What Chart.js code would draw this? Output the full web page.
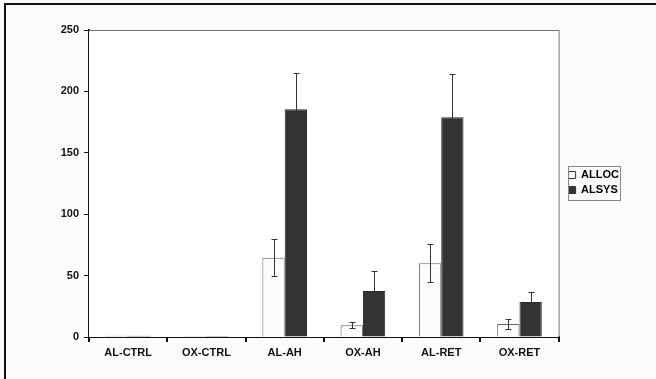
<!DOCTYPE html>
<html>
<head>
<meta charset="utf-8">
<script src="https://cdn.jsdelivr.net/npm/chart.js@4/dist/chart.umd.min.js"></script>
<style>
  html, body { margin: 0; padding: 0; background: #fbfbfb; }
  #wrap { position: relative; width: 656px; height: 379px; }
  #wrap:before { content: ''; position: absolute; left: 4px; top: 3px; right: 0; bottom: 0;
    border-left: 2px solid #111; border-top: 2px solid #111; pointer-events: none; }
</style>
</head>
<body>
<div id="wrap"><canvas id="grafico" width="656" height="379"></canvas></div>
<script>
// datos
const grupos = ['AL-CTRL', 'OX-CTRL', 'AL-AH', 'OX-AH', 'AL-RET', 'OX-RET']
const alloc = [1, 0.8, 64.5, 9.5, 60, 10.5]
const allocErr = [0, 0, 15, 2.5, 15.5, 4]
const alsys = [1, 0.8, 185.5, 37.5, 179, 28.5]
const alsysErr = [0, 0, 29.5, 16, 35, 8]
const ticksY = [0, 50, 100, 150, 200, 250]

const fuente = { family: 'Arial, "Liberation Sans", sans-serif', size: 11, weight: 'bold' }

// barras de error (solo si hay error)
const errores = {
  id: 'errores',
  afterDatasetsDraw(chart) {
    const c = chart.ctx
    const y = chart.scales.y
    const listas = [allocErr, alsysErr]
    c.save()
    c.strokeStyle = '#333'
    c.lineWidth = 1
    chart.data.datasets.forEach((ds, i) => {
      const meta = chart.getDatasetMeta(i)
      meta.data.forEach((bar, j) => {
        const e = listas[i][j]
        if (!e) return
        const v = ds.data[j]
        const yA = Math.round(y.getPixelForValue(v + e)) + 0.5
        const yB = Math.round(y.getPixelForValue(v - e)) + 0.5
        const x = Math.round(bar.x) + 0.5
        c.beginPath()
        c.moveTo(x, yA); c.lineTo(x, yB)
        c.moveTo(x - 3, yA); c.lineTo(x + 3, yA)
        c.moveTo(x - 3, yB); c.lineTo(x + 3, yB)
        c.stroke()
      })
    })
    c.restore()
  }
}

// marco superior y derecho, leyenda centrada en el area y con caja
const marco = {
  id: 'marco',
  beforeDraw(chart) {
    const a = chart.chartArea
    const l = chart.legend
    const alto = l.columnSizes[0].height + l.options.labels.padding * 2
    l.left = a.right + 6
    l.right = l.left + l.width
    l.top = (a.top + a.bottom) / 2 - alto / 2 - 1
    l.bottom = l.top + alto
  },
  beforeDatasetsDraw(chart) {
    const a = chart.chartArea
    const c = chart.ctx
    c.save()
    c.fillStyle = '#ffffff'
    c.fillRect(a.left, a.top, a.right - a.left, a.bottom - a.top)
    c.strokeStyle = '#777'
    c.lineWidth = 1
    c.beginPath()
    c.moveTo(a.left, a.top + 0.5); c.lineTo(a.right + 0.5, a.top + 0.5); c.lineTo(a.right + 0.5, a.bottom)
    c.stroke()
    c.restore()
  },
  afterDraw(chart) {
    const l = chart.legend
    const c = chart.ctx
    c.save()
    c.font = 'bold 11px Arial, "Liberation Sans", sans-serif'
    const texto = Math.max(...l.legendItems.map(it => c.measureText(it.text).width))
    c.strokeStyle = '#888'
    c.lineWidth = 1
    c.strokeRect(Math.round(l.left) + 3.5, Math.round(l.top) + 2.5,
      Math.round(texto + l.options.labels.boxWidth + 7), Math.round(l.bottom - l.top) - 4)
    c.restore()
  }
}

new Chart(document.getElementById('grafico'), {
  type: 'bar',
  data: {
    labels: grupos,
    datasets: [{
      label: 'ALLOC',
      data: alloc,
      backgroundColor: '#fcfcfc',
      borderColor: '#666',
      borderWidth: 1,
      categoryPercentage: 0.57,
      barPercentage: 1.0
    }, {
      label: 'ALSYS',
      data: alsys,
      backgroundColor: '#333333',
      borderColor: '#2a2a2a',
      borderWidth: 1,
      categoryPercentage: 0.57,
      barPercentage: 1.0
    }]
  },
  options: {
    responsive: false,
    animation: false,
    devicePixelRatio: 1,
    layout: { padding: { top: 30, left: 0, right: 33, bottom: 0 } },
    plugins: {
      legend: {
        position: 'right',
        align: 'center',
        labels: {
          font: fuente,
          color: '#111',
          boxWidth: 7,
          boxHeight: 7,
          padding: 4,
          generateLabels(chart) {
            return chart.data.datasets.map((ds, i) => ({
              text: ds.label,
              fillStyle: ds.backgroundColor,
              strokeStyle: '#333',
              lineWidth: 1,
              datasetIndex: i
            }))
          }
        }
      },
      tooltip: { enabled: false }
    },
    scales: {
      x: {
        grid: { display: true, drawOnChartArea: false, offset: true, tickLength: 5, color: '#111', lineWidth: 2 },
        border: { color: '#111', width: 2 },
        ticks: { font: fuente, color: '#111', padding: 4 },
        afterFit(s) { s.height = 42 }
      },
      y: {
        min: 0,
        max: 250,
        afterBuildTicks(s) { s.ticks = ticksY.map(v => ({ value: v })) },
        grid: { display: true, drawOnChartArea: false, tickLength: 5, color: '#111', lineWidth: 1 },
        border: { color: '#111', width: 2 },
        ticks: { font: fuente, color: '#111', padding: 5 },
        afterFit(s) { s.width = 89 }
      }
    }
  },
  plugins: [marco, errores]
})
</script>
</body>
</html>
